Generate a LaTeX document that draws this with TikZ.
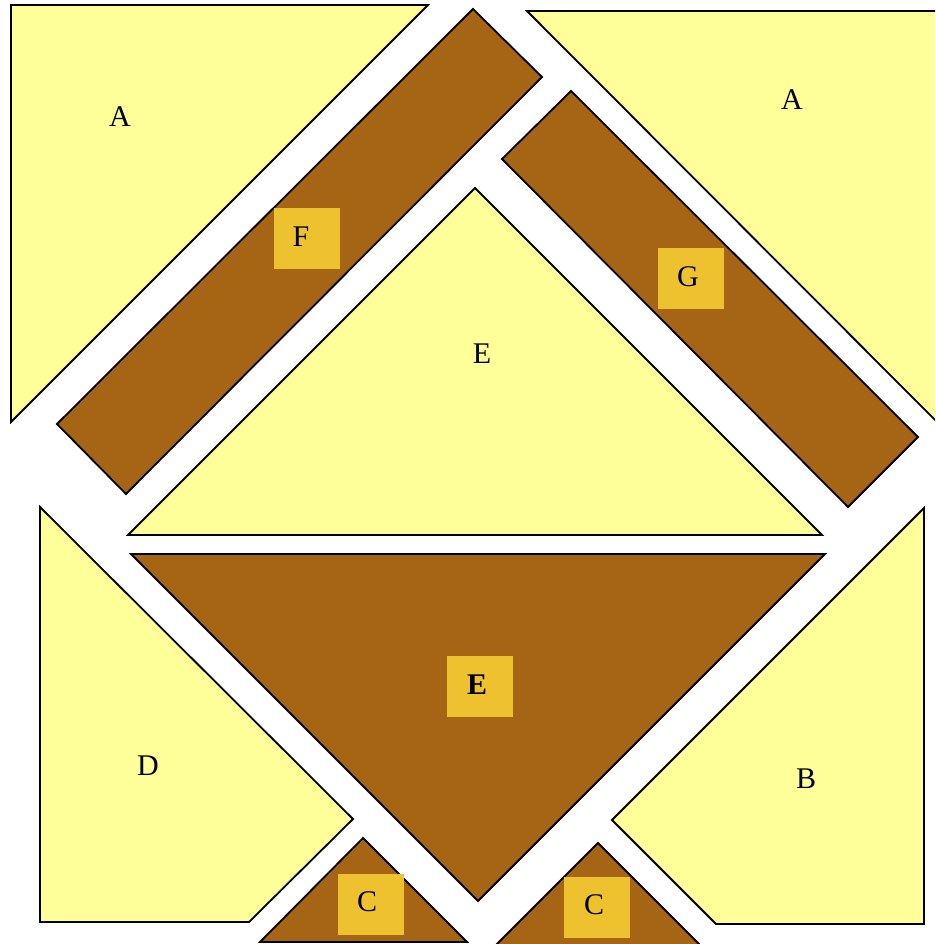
\documentclass[tikz,border=0pt]{standalone}
\usepackage{fontspec}
\setmainfont{Liberation Serif}
\definecolor{paleyellow}{RGB}{255,255,153}
\definecolor{brownband}{RGB}{165,101,20}
\definecolor{labelgold}{RGB}{238,194,46}
\begin{document}
\begin{tikzpicture}[x=1pt,y=-1pt,
  lightpiece/.style={draw=black,line width=1.8pt,fill=paleyellow,line join=miter},
  darkpiece/.style={draw=black,line width=1.8pt,fill=brownband,line join=miter},
  plainlabel/.style={font=\fontsize{30}{34}\selectfont,inner sep=0pt},
  goldbox/.style={fill=labelgold,minimum width=66pt,minimum height=61pt,inner sep=0pt}]
\clip (0,0) rectangle (935,944);
\fill[white] (0,0) rectangle (935,944);
% top-left A
\draw[lightpiece] (11,5) -- (428,5) -- (11,422) -- cycle;
% F band
\draw[darkpiece] (473,9) -- (542,77) -- (126,494) -- (57,424) -- cycle;
% top-right A
\draw[lightpiece] (527,11) -- (960,11) -- (960,445) -- cycle;
% G band
\draw[darkpiece] (571,91) -- (918,437) -- (848,507) -- (502,159) -- cycle;
% yellow E
\draw[lightpiece] (475,188) -- (822,535) -- (128,535) -- cycle;
% brown E
\draw[darkpiece] (131,554) -- (825,554) -- (478,901) -- cycle;
% D
\draw[lightpiece] (40,507) -- (353,819) -- (249,922) -- (40,922) -- cycle;
% B
\draw[lightpiece] (924,508) -- (924,924) -- (716,924) -- (612,820) -- cycle;
% C left
\draw[darkpiece] (363,838) -- (467,942) -- (260,942) -- cycle;
% C right
\draw[darkpiece] (598,843) -- (702,947) -- (494,947) -- cycle;
% label boxes
\node[goldbox] (bf) at (307,238) {};
\node[goldbox] (bg) at (691,278) {};
\node[goldbox] (be) at (480,686) {};
\node[goldbox] (bc1) at (371,904) {};
\node[goldbox] (bc2) at (597,907) {};
% labels
\node[plainlabel] (la1) at (120,117) {A};
\node[plainlabel] (la2) at (792,100) {A};
\node[plainlabel] (le1) at (482,354) {E};
\node[plainlabel] (ld) at (148,766) {D};
\node[plainlabel] (lb) at (806,779) {B};
\node[plainlabel] (lf) at (301,237) {F};
\node[plainlabel] (lg) at (688,277) {G};
\node[plainlabel,font=\fontsize{30}{34}\selectfont\bfseries] (le2) at (477,685) {E};
\node[plainlabel] (lc1) at (367,902) {C};
\node[plainlabel] (lc2) at (594,905) {C};
\end{tikzpicture}
\end{document}
